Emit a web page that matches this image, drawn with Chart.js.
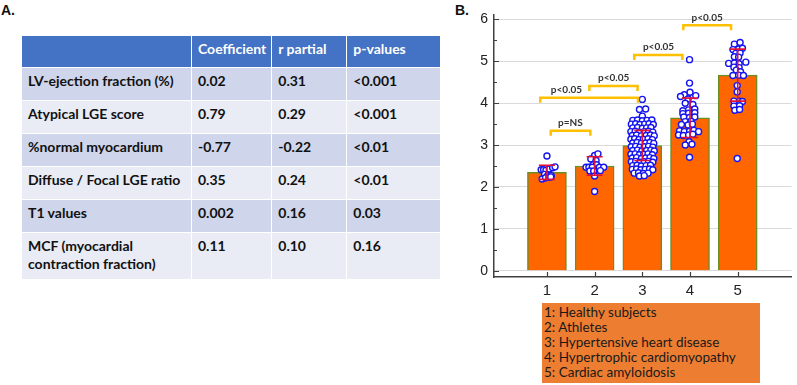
<!DOCTYPE html>
<html>
<head>
<meta charset="utf-8">
<script src="https://cdn.jsdelivr.net/npm/chart.js@4.4.0/dist/chart.umd.min.js"></script>
<style>
body{margin:0;background:#fff;width:797px;height:385px;position:relative;overflow:hidden;font-family:Lato,"Noto Sans",sans-serif}
.lab{position:absolute;font:bold 14px "Liberation Sans",Arial,sans-serif;color:#111}
#tbl{position:absolute;left:21px;top:35px;border-collapse:collapse;table-layout:fixed;font:bold 14px Lato,sans-serif;color:#111}
#tbl td{border:1.5px solid #fff;padding:4px 5px 0 6px;vertical-align:top;line-height:18px;box-sizing:border-box}
#tbl tr.h td{background:#4472C4;color:#fff}
#tbl tr.o td{background:#CFD5EA}
#tbl tr.e td{background:#E9EBF5}
#box{position:absolute;left:542px;top:303px;width:218px;height:80px;background:#ED7D31;color:#1a1a1a;font:13.5px Lato,sans-serif;line-height:15px;padding:2px 0 0 2px;box-sizing:border-box}
#c{position:absolute;left:440px;top:0}
</style>
</head>
<body>
<div class="lab" style="left:1px;top:2px">A.</div>
<div class="lab" style="left:455px;top:2px">B.</div>
<table id="tbl"></table>
<canvas id="c" width="357" height="300"></canvas>
<div id="box"></div>
<script>
// table A
const tableHead=["","Coefficient","r partial","p-values"];
const tableRows=[
["LV-ejection fraction (%)","0.02","0.31","<0.001"],
["Atypical LGE score","0.79","0.29","<0.001"],
["%normal myocardium","-0.77","-0.22","<0.01"],
["Diffuse / Focal LGE ratio","0.35","0.24","<0.01"],
["T1 values","0.002","0.16","0.03"],
["MCF (myocardial contraction fraction)","0.11","0.10","0.16"]
];

// chart B
const categories=[1,2,3,4,5];
const groupNames=["Healthy subjects","Athletes","Hypertensive heart disease","Hypertrophic cardiomyopathy","Cardiac amyloidosis"];
const means=[2.35,2.50,2.99,3.65,4.67];
const sds=[0.17,0.22,0.36,0.47,0.62];
const yTicks=[0,1,2,3,4,5,6];

const g1=[[1.00,2.74],[0.88,2.41],[0.93,2.41],[0.98,2.40],[1.05,2.43],[1.12,2.46],[1.17,2.48],[0.95,2.30],[1.02,2.28],[1.09,2.27],[0.90,2.19],[0.97,2.22],[1.04,2.23],[1.08,2.24]];
const g2=[[2.00,2.75],[2.07,2.79],[1.92,2.67],[2.03,2.63],[1.97,2.53],[2.04,2.53],[1.82,2.47],[1.88,2.47],[1.95,2.47],[2.10,2.47],[2.19,2.47],[1.90,2.38],[1.98,2.38],[2.12,2.39],[2.00,2.26],[2.00,1.89]];
const g3=[[3.00,4.09],[2.94,3.85],[3.07,3.86],[3.00,3.69],
[2.80,3.59],[2.90,3.60],[3.00,3.58],[3.10,3.59],[3.20,3.60],
[2.77,3.50],[2.86,3.51],[2.95,3.49],[3.05,3.50],[3.14,3.51],[3.23,3.49],
[2.80,3.41],[2.90,3.42],[3.00,3.40],[3.09,3.41],[3.18,3.42],
[2.76,3.32],[2.85,3.33],[2.94,3.31],[3.04,3.32],[3.13,3.33],[3.22,3.31],
[2.79,3.23],[2.88,3.24],[2.98,3.22],[3.08,3.23],[3.17,3.24],[3.25,3.22],
[2.76,3.14],[2.84,3.15],[2.93,3.13],[3.02,3.14],[3.12,3.15],[3.21,3.13],
[2.80,3.05],[2.89,3.06],[2.98,3.04],[3.07,3.05],[3.16,3.06],[3.24,3.04],
[2.77,2.96],[2.86,2.97],[2.95,2.95],[3.04,2.96],[3.13,2.97],[3.22,2.95],
[2.80,2.87],[2.90,2.88],[2.99,2.86],[3.09,2.87],[3.18,2.88],[3.25,2.86],
[2.76,2.78],[2.85,2.79],[2.94,2.77],[3.03,2.78],[3.12,2.79],[3.21,2.77],
[2.79,2.69],[2.88,2.70],[2.98,2.68],[3.07,2.69],[3.16,2.70],[3.24,2.68],
[2.77,2.60],[2.86,2.61],[2.95,2.59],[3.04,2.60],[3.13,2.61],[3.22,2.59],
[2.80,2.51],[2.89,2.52],[2.98,2.50],[3.08,2.51],[3.17,2.52],
[2.79,2.42],[2.88,2.43],[2.97,2.41],[3.06,2.42],[3.15,2.43],[3.22,2.41],
[2.83,2.33],[2.92,2.34],[3.02,2.32],[3.12,2.33],
[2.94,2.26],[3.04,2.27]];
const g4=[[3.99,5.04],[3.99,4.48],[4.00,4.26],[3.88,4.20],[4.12,4.18],[3.80,4.16],[3.96,4.10],[3.90,4.00],[4.06,3.97],[3.85,3.82],[3.97,3.84],[4.10,3.86],[3.85,3.75],[3.97,3.76],[4.10,3.77],[3.87,3.67],[3.99,3.66],[4.10,3.67],[3.90,3.56],[4.02,3.57],[3.82,3.49],[3.96,3.48],[4.05,3.50],[3.78,3.34],[3.88,3.32],[3.99,3.33],[4.08,3.35],[4.18,3.32],[3.76,3.24],[3.86,3.23],[3.97,3.24],[4.06,3.26],[3.98,3.08],[3.90,3.00],[4.04,3.02],[3.99,2.71]];
const g5=[[4.93,5.41],[5.05,5.45],[4.90,5.28],[5.02,5.29],[5.10,5.31],[4.96,5.19],[5.05,5.20],[4.93,5.11],[5.02,5.10],[4.81,4.95],[4.93,4.96],[5.03,4.94],[5.17,4.98],[4.92,4.86],[5.03,4.85],[4.97,4.79],[5.06,4.75],[4.90,4.66],[5.02,4.67],[5.12,4.66],[4.99,4.42],[4.99,4.27],[4.92,4.05],[5.04,4.05],[5.10,4.04],[4.92,3.93],[5.04,3.94],[4.94,3.83],[5.04,3.85],[4.99,2.68]];
const groups=[g1,g2,g3,g4,g5];

// significance brackets
const brFrom=[1.08,0.86,1.89,2.83,3.86];
const brTo=[1.91,2.91,2.90,3.84,4.86];
const brY=[3.34,4.13,4.41,5.15,5.86];
const brText=["p=NS","p<0.05","p<0.05","p<0.05","p<0.05"];
const brTextX=[1.49,1.41,2.40,3.34,4.36];

// build table
let tbl=document.getElementById("tbl");
let colW=[170,80,75,94];
let cg=document.createElement("colgroup");
colW.forEach(w=>{let c=document.createElement("col");c.style.width=w+"px";cg.appendChild(c);});
tbl.appendChild(cg);
let hr=document.createElement("tr");
hr.className="h";hr.style.height="32px";
tableHead.forEach(t=>{let td=document.createElement("td");td.textContent=t;hr.appendChild(td);});
tbl.appendChild(hr);
tableRows.forEach((r,i)=>{
let tr=document.createElement("tr");
tr.className=i%2==0?"o":"e";
tr.style.height=(i==tableRows.length-1?47:33)+"px";
r.forEach(t=>{let td=document.createElement("td");td.textContent=t;tr.appendChild(td);});
tbl.appendChild(tr);
});

// legend box
document.getElementById("box").innerHTML=groupNames.map((n,i)=>categories[i]+": "+n).join("<br>");

const overlay={
id:"overlay",
afterDatasetsDraw(chart){
const ctx=chart.ctx,xs=chart.scales.x,ys=chart.scales.y,a=chart.chartArea;
ctx.save();
// inward ticks
ctx.strokeStyle="#404040";ctx.lineWidth=1.2;
ctx.beginPath();
for(let v=0;v<=6;v+=0.5){
let py=Math.round(ys.getPixelForValue(v))+0.5;
let len=Number.isInteger(v)?5:3;
ctx.moveTo(a.left,py);ctx.lineTo(a.left+len,py);
}
categories.forEach(c=>{
let px=Math.round(xs.getPixelForValue(c))+0.5;
ctx.moveTo(px,a.bottom);ctx.lineTo(px,a.bottom-5);
});
ctx.stroke();
// error bars
ctx.strokeStyle="#E0103A";ctx.lineWidth=1.6;
means.forEach((m,i)=>{
let px=xs.getPixelForValue(categories[i]);
let hi=ys.getPixelForValue(m+sds[i]),lo=ys.getPixelForValue(m-sds[i]);
ctx.beginPath();
ctx.moveTo(px,hi);ctx.lineTo(px,lo);
ctx.moveTo(px-8,hi);ctx.lineTo(px+8,hi);
ctx.moveTo(px-8,lo);ctx.lineTo(px+8,lo);
ctx.stroke();
});
// brackets
ctx.strokeStyle="#FFC000";ctx.lineWidth=2.5;ctx.lineJoin="miter";
ctx.fillStyle="#333";ctx.font="bold 10px Lato, sans-serif";ctx.textAlign="center";ctx.textBaseline="middle";
brY.forEach((y,i)=>{
let py=ys.getPixelForValue(y),x1=xs.getPixelForValue(brFrom[i]),x2=xs.getPixelForValue(brTo[i]);
ctx.beginPath();
ctx.moveTo(x1,py+5);ctx.lineTo(x1,py);ctx.lineTo(x2,py);ctx.lineTo(x2,py+5);
ctx.stroke();
ctx.fillText(brText[i],xs.getPixelForValue(brTextX[i]),py-8);
});
ctx.restore();
}
};

const datasets=[{
type:"bar",
data:means.map((m,i)=>({x:categories[i],y:m})),
backgroundColor:"#FF6600",
borderColor:"#6B8E23",
borderWidth:1.5,
barThickness:39,
order:3
}];
groups.forEach(g=>{
datasets.push({
type:"scatter",
data:g.map(p=>({x:p[0],y:p[1]})),
pointRadius:3,
pointBorderWidth:1.4,
pointBorderColor:"#1414F0",
pointBackgroundColor:"#ffffff",
order:1
});
});

new Chart(document.getElementById("c"),{
type:"bar",
data:{datasets:datasets},
options:{
responsive:false,
animation:false,
layout:{padding:{top:12,right:0,left:0,bottom:0}},
plugins:{legend:{display:false},tooltip:{enabled:false}},
scales:{
x:{
type:"linear",min:-0.11,max:6.13,offset:false,
afterBuildTicks:s=>{s.ticks=categories.map(v=>({value:v}));},
afterFit:s=>{s.height=23;},
grid:{display:false,drawTicks:false,tickLength:0,offset:false},
border:{display:true,color:"#404040",width:1.5},
ticks:{padding:5,color:"#222",font:{family:"Liberation Sans",size:15},maxRotation:0}
},
y:{
type:"linear",min:-0.15,max:6.12,
afterBuildTicks:s=>{s.ticks=yTicks.map(v=>({value:v}));},
afterFit:s=>{s.width=54;},
grid:{color:"#DADADA",lineWidth:1,drawTicks:false,tickLength:0},
border:{display:true,color:"#404040",width:1.5},
ticks:{padding:6,color:"#222",font:{family:"Liberation Sans",size:14}}
}
}
},
plugins:[overlay]
});
</script>
</body>
</html>
